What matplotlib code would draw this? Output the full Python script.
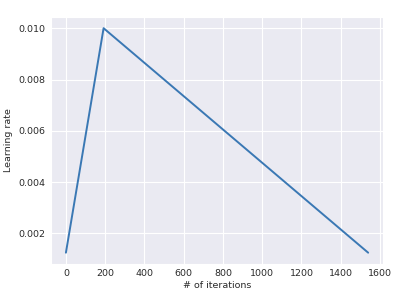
import matplotlib
matplotlib.use("Agg")
import matplotlib.pyplot as plt
import seaborn as sns

# one-cycle learning rate schedule
iterations = [0, 192, 1540]
learning_rate = [0.00125, 0.01, 0.00125]
x_ticks = [0, 200, 400, 600, 800, 1000, 1200, 1400, 1600]
y_ticks = [0.002, 0.004, 0.006, 0.008, 0.010]

sns.set_style("darkgrid")
plt.rcParams['font.family'] = ['DejaVu Sans']

fig = plt.figure(figsize=(4.13, 3.03), dpi=100)
ax = fig.add_axes([0.123, 0.129, 0.805, 0.815])
ax.plot(iterations, learning_rate, color='#3a78b4', linewidth=1.4)

ax.set_xticks(x_ticks)
ax.set_yticks(y_ticks)
ax.set_yticklabels([f"{v:.3f}" for v in y_ticks])
ax.tick_params(labelsize=6.8, colors='#2a2a2a', length=0, pad=4)
ax.set_xlabel("# of iterations", fontsize=6.8, color='#2a2a2a', labelpad=2)
ax.set_ylabel("Learning rate", fontsize=6.8, color='#2a2a2a', labelpad=4)
ax.margins(x=0.05, y=0.05)

fig.savefig("out.png", dpi=100)
